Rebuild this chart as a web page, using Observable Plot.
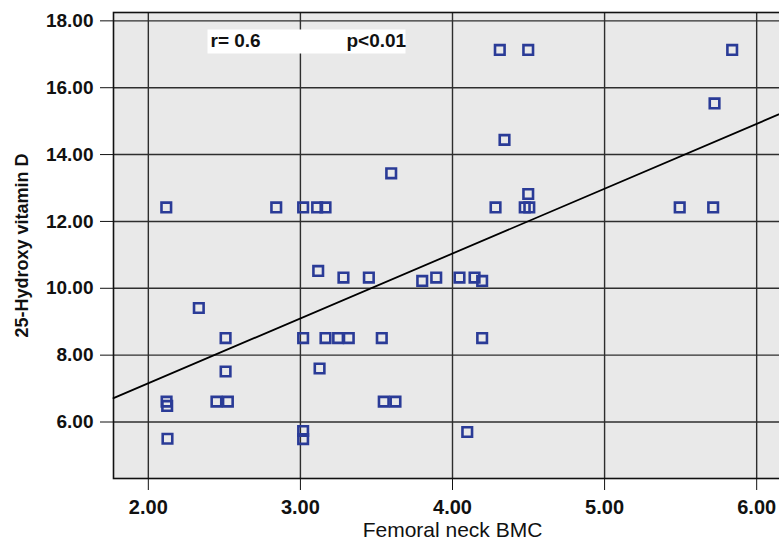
<!DOCTYPE html>
<html>
<head>
<meta charset="utf-8">
<script src="https://cdn.jsdelivr.net/npm/d3@7"></script>
<script src="https://cdn.jsdelivr.net/npm/@observablehq/plot@0.6"></script>
<style>
  html, body { margin: 0; padding: 0; background: #fff; overflow: hidden; }
  #chart svg { overflow: hidden; display: block; }
</style>
</head>
<body>
<div id="chart"></div>
<script>
// Femoral neck BMC (x) and 25-Hydroxy vitamin D (y)
const bmc = [
  2.118, 2.841, 3.018, 3.110, 3.165, 3.117, 3.283, 3.450, 2.332, 2.508,
  3.018, 3.165, 3.248, 3.318, 3.535, 2.508, 3.126, 2.120, 2.124, 2.448,
  2.523, 3.548, 3.625, 2.126, 3.018, 3.018, 3.597, 4.283, 4.498, 4.475,
  4.505, 3.801, 3.893, 4.046, 4.145, 4.195, 4.195, 4.097, 4.311, 4.498,
  5.839, 5.723, 4.342, 5.494, 5.714
];
const vitaminD = [
  12.42, 12.42, 12.42, 12.42, 12.42, 10.52, 10.32, 10.32, 9.41, 8.51,
  8.51, 8.51, 8.51, 8.51, 8.51, 7.51, 7.60, 6.61, 6.48, 6.61,
  6.61, 6.61, 6.61, 5.50, 5.73, 5.49, 13.44, 12.42, 12.82, 12.42,
  12.42, 10.22, 10.32, 10.32, 10.32, 10.22, 8.51, 5.70, 17.13, 17.13,
  17.13, 15.53, 14.44, 12.42, 12.42
];
// Fitted line
const fitIntercept = 3.28;
const fitSlope = 1.94;
// Axis set-up
const xDomain = [1.771, 6.229];
const yDomain = [4.31, 18.25];
const xTicks = [2, 3, 4, 5, 6];
const yTicks = [6, 8, 10, 12, 14, 16, 18];
const xTitle = "Femoral neck BMC";
const yTitle = "25-Hydroxy vitamin D";
const statR = "r= 0.6";
const statP = "p<0.01";

const points = bmc.map((x, i) => ({x, y: vitaminD[i]}));
const fitLine = xDomain.map(x => ({x, y: fitIntercept + fitSlope * x}));
const fmt = d3.format(".2f");
const font = "'Liberation Sans', Arial, sans-serif";

const chart = Plot.plot({
  width: 779,
  height: 548,
  marginLeft: 113,
  marginRight: -12,
  marginTop: 12,
  marginBottom: 70,
  style: {fontFamily: font, background: "white", color: "#111"},
  x: {domain: xDomain, ticks: xTicks},
  y: {domain: yDomain, ticks: yTicks},
  marks: [
    Plot.frame({fill: "#e9e9e9", stroke: null}),
    Plot.gridX(xTicks, {stroke: "#2e2e2e", strokeOpacity: 1, strokeWidth: 1.4}),
    Plot.gridY(yTicks, {stroke: "#2e2e2e", strokeOpacity: 1, strokeWidth: 1.4}),
    Plot.frame({fill: "white", stroke: null, insetLeft: 94, insetRight: 386, insetTop: 17, insetBottom: 425}),
    Plot.text([statR], {frameAnchor: "top-left", textAnchor: "start", lineAnchor: "top", dx: 97, dy: 21, fontSize: 19, fontWeight: "bold", letterSpacing: 0.5, fill: "#111"}),
    Plot.text([statP], {frameAnchor: "top-left", textAnchor: "start", lineAnchor: "top", dx: 233, dy: 21, fontSize: 19, fontWeight: "bold", letterSpacing: 0.3, fill: "#111"}),
    Plot.frame({stroke: "#111", strokeWidth: 1.6}),
    Plot.axisY(yTicks, {tickFormat: fmt, tickSize: 13, tickPadding: 7, fontSize: 19, fontWeight: "bold", letterSpacing: 0.3, label: null, stroke: "#111"}),
    Plot.axisX(xTicks, {tickFormat: fmt, tickSize: 12, tickPadding: 9, fontSize: 20, fontWeight: "bold", label: null, stroke: "#111"}),
    Plot.line(fitLine, {x: "x", y: "y", stroke: "#000", strokeWidth: 1.8}),
    Plot.dot(points, {x: "x", y: "y", symbol: "square", r: 5.4, stroke: "#2a3b97", strokeWidth: 2.6, fill: "none"}),
    Plot.text([xTitle], {frameAnchor: "bottom", textAnchor: "middle", dy: 58, fontSize: 21, letterSpacing: 1, fill: "#111"}),
    Plot.text([yTitle], {frameAnchor: "left", textAnchor: "middle", rotate: -90, dx: -91, fontSize: 18, fontWeight: "bold", fill: "#111"})
  ]
});
document.getElementById("chart").appendChild(chart);
</script>
</body>
</html>
